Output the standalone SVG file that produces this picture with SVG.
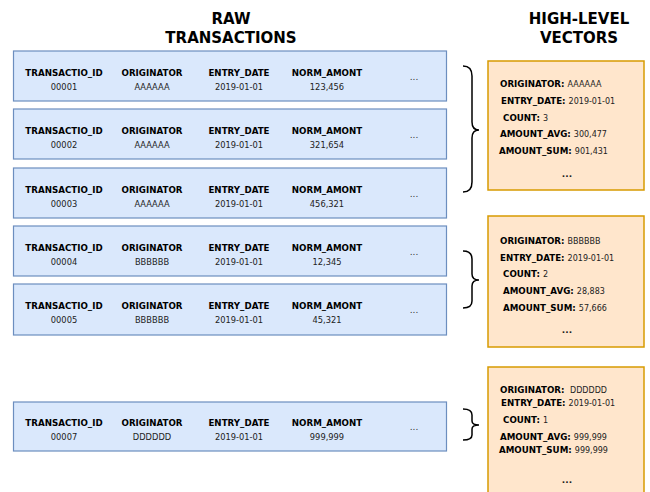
<svg xmlns="http://www.w3.org/2000/svg" width="650" height="492" viewBox="0 0 650 492">
<style>
.title{font-family:"DejaVu Sans",Verdana,sans-serif;font-weight:bold;font-size:15px;fill:#000;text-anchor:middle}
.row{fill:#dae8fc;stroke:#6c8ebf;stroke-width:1.2}
.vec{fill:#ffe6cc;stroke:#d79b00;stroke-width:1.5}
.h{font-family:"DejaVu Sans",Verdana,sans-serif;font-weight:bold;font-size:8.7px;fill:#000;text-anchor:middle}
.v{font-family:"DejaVu Sans",Verdana,sans-serif;font-size:8.3px;fill:#222;text-anchor:middle}
.k{font-family:"DejaVu Sans",Verdana,sans-serif;font-weight:bold;font-size:8.7px;fill:#000}
.kv{font-weight:normal;font-size:8px;fill:#222}
.dots{font-family:"DejaVu Sans",Verdana,sans-serif;font-size:9px;fill:#333;text-anchor:middle}
.bdots{font-family:"DejaVu Sans",Verdana,sans-serif;font-weight:bold;font-size:9px;fill:#222;text-anchor:middle}
.brace{fill:none;stroke:#000;stroke-width:1.5}
</style>
<g id="titles">
<text class="title" x="231" y="24">RAW</text>
<text class="title" x="231" y="43">TRANSACTIONS</text>
<text class="title" x="579" y="24">HIGH-LEVEL</text>
<text class="title" x="579" y="43">VECTORS</text>
</g>
<g id="tx1">
<rect class="row" x="13.5" y="51" width="433" height="50"/>
<text class="h" x="64" y="76">TRANSACTIO_ID</text><text class="v" x="64" y="89.5">00001</text>
<text class="h" x="152" y="76">ORIGINATOR</text><text class="v" x="152" y="89.5">AAAAAA</text>
<text class="h" x="239" y="76">ENTRY_DATE</text><text class="v" x="239" y="89.5">2019-01-01</text>
<text class="h" x="327" y="76">NORM_AMONT</text><text class="v" x="327" y="89.5">123,456</text>
<text class="dots" x="414" y="80">...</text>
</g>
<g id="tx2">
<rect class="row" x="13.5" y="109" width="433" height="50"/>
<text class="h" x="64" y="134">TRANSACTIO_ID</text><text class="v" x="64" y="147.5">00002</text>
<text class="h" x="152" y="134">ORIGINATOR</text><text class="v" x="152" y="147.5">AAAAAA</text>
<text class="h" x="239" y="134">ENTRY_DATE</text><text class="v" x="239" y="147.5">2019-01-01</text>
<text class="h" x="327" y="134">NORM_AMONT</text><text class="v" x="327" y="147.5">321,654</text>
<text class="dots" x="414" y="138">...</text>
</g>
<g id="tx3">
<rect class="row" x="13.5" y="168" width="433" height="50"/>
<text class="h" x="64" y="193">TRANSACTIO_ID</text><text class="v" x="64" y="206.5">00003</text>
<text class="h" x="152" y="193">ORIGINATOR</text><text class="v" x="152" y="206.5">AAAAAA</text>
<text class="h" x="239" y="193">ENTRY_DATE</text><text class="v" x="239" y="206.5">2019-01-01</text>
<text class="h" x="327" y="193">NORM_AMONT</text><text class="v" x="327" y="206.5">456,321</text>
<text class="dots" x="414" y="197">...</text>
</g>
<g id="tx4">
<rect class="row" x="13.5" y="226" width="433" height="50"/>
<text class="h" x="64" y="251">TRANSACTIO_ID</text><text class="v" x="64" y="264.5">00004</text>
<text class="h" x="152" y="251">ORIGINATOR</text><text class="v" x="152" y="264.5">BBBBBB</text>
<text class="h" x="239" y="251">ENTRY_DATE</text><text class="v" x="239" y="264.5">2019-01-01</text>
<text class="h" x="327" y="251">NORM_AMONT</text><text class="v" x="327" y="264.5">12,345</text>
<text class="dots" x="414" y="255">...</text>
</g>
<g id="tx5">
<rect class="row" x="13.5" y="284" width="433" height="51"/>
<text class="h" x="64" y="309">TRANSACTIO_ID</text><text class="v" x="64" y="322.5">00005</text>
<text class="h" x="152" y="309">ORIGINATOR</text><text class="v" x="152" y="322.5">BBBBBB</text>
<text class="h" x="239" y="309">ENTRY_DATE</text><text class="v" x="239" y="322.5">2019-01-01</text>
<text class="h" x="327" y="309">NORM_AMONT</text><text class="v" x="327" y="322.5">45,321</text>
<text class="dots" x="414" y="313">...</text>
</g>
<g id="tx7">
<rect class="row" x="13.5" y="402" width="433" height="49"/>
<text class="h" x="64" y="426">TRANSACTIO_ID</text><text class="v" x="64" y="439.5">00007</text>
<text class="h" x="152" y="426">ORIGINATOR</text><text class="v" x="152" y="439.5">DDDDDD</text>
<text class="h" x="239" y="426">ENTRY_DATE</text><text class="v" x="239" y="439.5">2019-01-01</text>
<text class="h" x="327" y="426">NORM_AMONT</text><text class="v" x="327" y="439.5">999,999</text>
<text class="dots" x="414" y="430">...</text>
</g>
<g id="connectors">
<path class="brace" d="M463,66 Q472,66 472,76 L472,122 Q472,130 479,130 Q472,130 472,138 L472,182 Q472,192 463,192"/>
<path class="brace" d="M463,251 Q472,251 472,259 L472,274 Q472,280 479,280 Q472,280 472,286 L472,301 Q472,308 463,308"/>
<path class="brace" d="M463,409 Q472,409 472,415 L472,421 Q472,425 479,425 Q472,425 472,429 L472,435 Q472,440 463,440"/>
</g>
<g id="vec1">
<rect class="vec" x="488" y="61" width="156" height="129"/>
<text class="k" x="500" y="86.5">ORIGINATOR: <tspan class="kv">AAAAAA</tspan></text>
<text class="k" x="501" y="103.5">ENTRY_DATE: <tspan class="kv">2019-01-01</tspan></text>
<text class="k" x="503" y="120.5">COUNT: <tspan class="kv">3</tspan></text>
<text class="k" x="500" y="136.5">AMOUNT_AVG: <tspan class="kv">300,477</tspan></text>
<text class="k" x="499" y="153.5">AMOUNT_SUM: <tspan class="kv">901,431</tspan></text>
<text class="bdots" x="567" y="177">...</text>
</g>
<g id="vec2">
<rect class="vec" x="488" y="216" width="156" height="131"/>
<text class="k" x="500" y="243.5">ORIGINATOR: <tspan class="kv">BBBBBB</tspan></text>
<text class="k" x="500" y="260.5">ENTRY_DATE: <tspan class="kv">2019-01-01</tspan></text>
<text class="k" x="503" y="276.5">COUNT: <tspan class="kv">2</tspan></text>
<text class="k" x="503" y="293.5">AMOUNT_AVG: <tspan class="kv">28,883</tspan></text>
<text class="k" x="503" y="310.5">AMOUNT_SUM: <tspan class="kv">57,666</tspan></text>
<text class="bdots" x="567" y="333">...</text>
</g>
<g id="vec3">
<rect class="vec" x="488" y="367" width="156" height="140"/>
<text class="k" x="500" y="392.5">ORIGINATOR: <tspan class="kv" xml:space="preserve"> DDDDDD</tspan></text>
<text class="k" x="501" y="405.5">ENTRY_DATE: <tspan class="kv">2019-01-01</tspan></text>
<text class="k" x="503" y="422.5">COUNT: <tspan class="kv">1</tspan></text>
<text class="k" x="500" y="439.5">AMOUNT_AVG: <tspan class="kv">999,999</tspan></text>
<text class="k" x="499" y="452.5">AMOUNT_SUM: <tspan class="kv">999,999</tspan></text>
<text class="bdots" x="567" y="483">...</text>
</g>
</svg>
